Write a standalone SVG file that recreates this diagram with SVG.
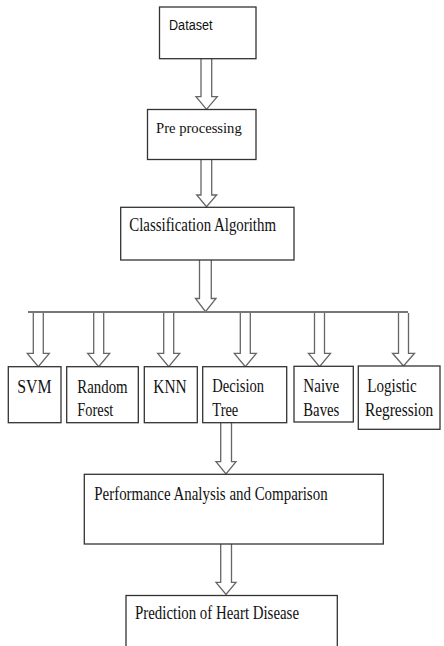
<svg xmlns="http://www.w3.org/2000/svg" width="444" height="646" viewBox="0 0 444 646">
<style>
.box{fill:#fff;stroke:#333;stroke-width:1.3}
.arr{fill:#fff;stroke:#666;stroke-width:1.3;stroke-linejoin:miter}
.t{font-family:"Liberation Serif","Times New Roman",serif;font-size:18px;fill:#111}
.s{font-family:"Liberation Sans",Arial,sans-serif;font-size:14px;fill:#111}
</style>
<rect width="444" height="646" fill="#fff"/>
<g id="connectors">
<path class="arr" d="M201,58.7 V96.7 H196 L206.5,109.3 L217.3,96.7 H211.7 V58.7"/>
<path class="arr" d="M201,159.3 V195 H196.7 L206.5,206.7 L216.7,195 H211.7 V159.3"/>
<path class="arr" d="M199.5,260 V298.5 H195.5 L205.5,311.7 L216,298.5 H211.3 V260"/>
<line x1="28" y1="312" x2="408" y2="312" stroke="#777" stroke-width="2"/>
<path class="arr" d="M33.3,313 V353.3 H27.3 L38.3,366.7 L49.3,353.3 H43.3 V313"/>
<path class="arr" d="M93.7,313 V353.3 H87.7 L98.7,366.7 L109.7,353.3 H103.7 V313"/>
<path class="arr" d="M163.7,313 V353.3 H157.7 L168.7,366.7 L179.7,353.3 H173.7 V313"/>
<path class="arr" d="M240.3,313 V353.3 H234.3 L245.3,366.7 L256.3,353.3 H250.3 V313"/>
<path class="arr" d="M314.5,313 V353.3 H308.5 L319.5,366.7 L330.5,353.3 H324.5 V313"/>
<path class="arr" d="M398.5,313 V353.3 H392.5 L403.5,366 L414.5,353.3 H408.5 V313"/>
<path class="arr" d="M220.7,422.7 V461.7 H216 L226,474 L236,461.7 H231.5 V422.7"/>
<path class="arr" d="M220.7,544 V582.3 H216 L226,594.5 L236,582.3 H231.5 V544"/>
</g>
<g id="dataset">
<rect class="box" x="159.5" y="7" width="96.5" height="51.7"/>
<text class="s" x="169" y="30" textLength="43.5" lengthAdjust="spacingAndGlyphs">Dataset</text>
</g>
<g id="preprocessing">
<rect class="box" x="147.5" y="109.5" width="108.5" height="50"/>
<text class="t" x="156" y="133.3" style="font-size:14.5px" textLength="85.7" lengthAdjust="spacingAndGlyphs">Pre processing</text>
</g>
<g id="classification">
<rect class="box" x="120.7" y="207.3" width="173.3" height="52.7"/>
<text class="t" x="129.3" y="231" textLength="146.7" lengthAdjust="spacingAndGlyphs">Classification Algorithm</text>
</g>
<g id="svm">
<rect class="box" x="8.3" y="366.7" width="52.7" height="56"/>
<text class="t" x="17.3" y="393" textLength="34.3" lengthAdjust="spacingAndGlyphs">SVM</text>
</g>
<g id="random-forest">
<rect class="box" x="66.7" y="366.7" width="71.6" height="56"/>
<text class="t" x="77.3" y="393" textLength="50.3" lengthAdjust="spacingAndGlyphs">Random</text>
<text class="t" x="77.3" y="416" textLength="36" lengthAdjust="spacingAndGlyphs">Forest</text>
</g>
<g id="knn">
<rect class="box" x="144.3" y="366.7" width="53" height="56"/>
<text class="t" x="153.3" y="392.5" textLength="33.3" lengthAdjust="spacingAndGlyphs">KNN</text>
</g>
<g id="decision-tree">
<rect class="box" x="202.7" y="366.7" width="84" height="56"/>
<text class="t" x="212.3" y="392" textLength="51.7" lengthAdjust="spacingAndGlyphs">Decision</text>
<text class="t" x="212.3" y="416" textLength="26" lengthAdjust="spacingAndGlyphs">Tree</text>
</g>
<g id="naive-bayes">
<rect class="box" x="294" y="366.3" width="59.3" height="55.7"/>
<text class="t" x="303.3" y="392" textLength="36" lengthAdjust="spacingAndGlyphs">Naive</text>
<text class="t" x="303.3" y="416" textLength="36" lengthAdjust="spacingAndGlyphs">Baves</text>
</g>
<g id="logistic-regression">
<rect class="box" x="358.3" y="366" width="81.7" height="63.3"/>
<text class="t" x="367.3" y="392" textLength="49.3" lengthAdjust="spacingAndGlyphs">Logistic</text>
<text class="t" x="365" y="416" textLength="68.3" lengthAdjust="spacingAndGlyphs">Regression</text>
</g>
<g id="performance">
<rect class="box" x="84.3" y="474.3" width="299" height="69.7"/>
<text class="t" x="94.3" y="500" textLength="233.3" lengthAdjust="spacingAndGlyphs">Performance Analysis and Comparison</text>
</g>
<g id="prediction">
<rect class="box" x="126" y="595.5" width="211.3" height="70"/>
<text class="t" x="135" y="619.3" textLength="164" lengthAdjust="spacingAndGlyphs">Prediction of Heart Disease</text>
</g>
</svg>
